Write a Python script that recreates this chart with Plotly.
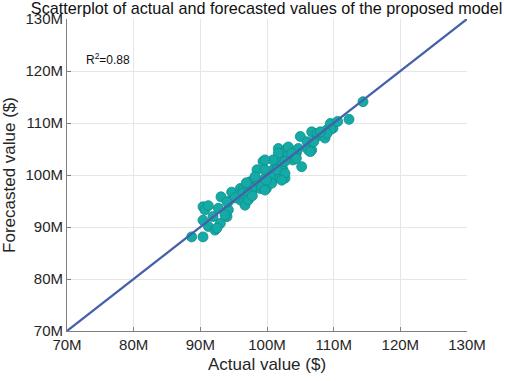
import plotly.graph_objects as go

# values in millions of dollars
actual = [88.7, 90.4, 91.2, 92.2, 90.4, 90.4, 90.7, 91.9, 93.0, 92.7, 94.0, 94.2, 93.1, 94.7, 94.2,
          96.0, 96.4, 96.0, 96.7, 96.4, 97.2, 97.5, 98.2, 98.5, 97.9, 99.0, 98.7, 99.4, 99.9, 99.7,
          100.4, 100.9, 101.2, 101.7, 101.5, 102.0, 101.7, 102.2, 102.4, 102.7, 103.0, 103.2, 103.9,
          104.4, 104.7, 105.2, 105.0, 106.0, 106.2, 106.7, 106.7, 107.5, 108.7, 109.0, 109.5, 109.9,
          114.4, 112.3, 110.6, 109.6, 109.0, 107.5, 103.2, 101.7, 103.7, 104.4, 100.9, 99.7, 102.2,
          101.5, 99.7, 98.2, 100.5, 102.7, 102.2, 100.7, 99.2, 97.7, 99.7, 97.2, 102.7, 99.9,
          107.0, 108.0, 106.5, 95.2, 97.2, 97.8, 96.9, 91.2, 94.0, 93.7, 92.5]
forecast = [88.1, 88.1, 90.1, 89.4, 91.3, 93.9, 93.3, 92.0, 90.7, 93.6, 92.0, 93.3, 95.8, 96.7, 94.9,
            97.4, 97.1, 95.2, 94.2, 96.5, 97.8, 98.7, 99.4, 101.0, 97.1, 97.4, 98.7, 102.6, 97.4, 99.4,
            100.3, 101.0, 99.4, 99.7, 101.9, 102.9, 105.1, 104.2, 101.0, 99.4, 105.1, 103.8, 102.9,
            104.2, 105.1, 101.6, 107.4, 106.4, 104.8, 104.8, 108.3, 107.4, 107.1, 108.7, 109.9, 109.0,
            114.1, 110.7, 110.3, 108.8, 108.0, 108.0, 105.4, 104.2, 104.2, 103.2, 102.9, 102.9, 101.9,
            101.0, 101.0, 99.7, 99.7, 100.3, 99.0, 98.4, 97.8, 97.4, 97.1, 96.5, 102.6, 99.0,
            106.4, 108.3, 104.5, 95.6, 95.2, 96.0, 98.5, 94.1, 94.8, 92.3, 89.8]
line_range = [70, 130]
tick_vals = [70, 80, 90, 100, 110, 120, 130]
tick_text = ["70M", "80M", "90M", "100M", "110M", "120M", "130M"]

title = "Scatterplot of actual and forecasted values of the proposed model"
x_title = "Actual value ($)"
y_title = "Forecasted value ($)"
r2_text = "R<sup>2</sup>=0.88"

FONT = "Liberation Sans, Arial"

fig = go.Figure()
fig.add_trace(go.Scatter(
    x=actual, y=forecast, mode="markers",
    marker=dict(size=10, color="#14aaa6", line=dict(color="#0f8f8c", width=0.8)),
    showlegend=False,
))
fig.add_trace(go.Scatter(
    x=line_range, y=line_range, mode="lines",
    line=dict(color="#4660aa", width=2.2), showlegend=False,
))

axis_common = dict(
    range=[70, 130], tickvals=tick_vals, ticktext=tick_text,
    showgrid=True, gridcolor="#e6e6e6", gridwidth=1,
    showline=True, linecolor="#7f7f7f", linewidth=1,
    ticks="inside", ticklen=4, tickcolor="#7f7f7f",
    tickfont=dict(family=FONT, size=15, color="#262626"),
    zeroline=False, mirror=False, automargin=False,
)
fig.update_xaxes(**axis_common, title=dict(text=x_title, standoff=6,
                 font=dict(family=FONT, size=17, color="#262626")))
fig.update_yaxes(**axis_common, title=dict(text=y_title, standoff=6,
                 font=dict(family=FONT, size=17, color="#262626")))

fig.add_annotation(x=72.5, y=122.3, xref="x", yref="y", text=r2_text, showarrow=False,
                   xanchor="left", yanchor="middle",
                   font=dict(family=FONT, size=12, color="#111111"))

fig.update_layout(
    width=505, height=381,
    margin=dict(l=67, r=38, t=19, b=50),
    paper_bgcolor="white", plot_bgcolor="white",
    title=dict(text=title, x=0.528, xanchor="center", y=0.993, yanchor="top",
               font=dict(family=FONT, size=16.2, color="#111111")),
)

fig.write_html("out.html", config={"displayModeBar": False},
               post_script="document.body.style.margin='0';")
